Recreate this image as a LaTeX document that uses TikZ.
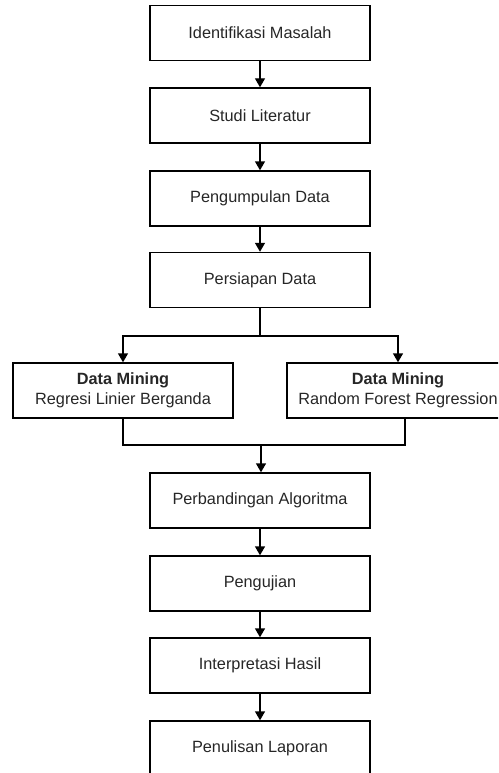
\documentclass[tikz,border=0pt]{standalone}
\usepackage{fontspec}
\setmainfont{Liberation Sans}
\usetikzlibrary{arrows.meta}
\begin{document}
\begin{tikzpicture}[x=1pt,y=-1pt,
  box/.style={draw=black,line width=1.4pt,minimum width=220pt,minimum height=55pt,inner sep=0pt,font=\fontsize{16.3}{20}\selectfont,text=black!85,align=center},
  conn/.style={draw=black,line width=1.4pt},
  arr/.style={conn,-{Triangle[width=10pt,length=9pt]}}]
\useasboundingbox (0,0) rectangle (498,773);
\clip (0,0) rectangle (498,773);
\node[box] (n1) at (260,33) {Identifikasi Masalah};
\node[box] (n2) at (260,115.5) {Studi Literatur};
\node[box] (n3) at (260,198.5) {Pengumpulan Data};
\node[box] (n4) at (260,280) {Persiapan Data};
\node[box] (dl) at (123,390.5) {\textbf{Data Mining}\\Regresi Linier Berganda};
\node[box,minimum width=222pt] (dr) at (398,390.5) {\textbf{Data Mining}\\Random Forest Regression};
\node[box] (n5) at (260,500.5) {Perbandingan Algoritma};
\node[box] (n6) at (260,583.5) {Pengujian};
\node[box] (n7) at (260,665.5) {Interpretasi Hasil};
\node[box] (n8) at (260,748.5) {Penulisan Laporan};
\coordinate (split) at (260,336);
\coordinate (merge) at (261,445);
\draw[arr] (n1) -- (n2);
\draw[arr] (n2) -- (n3);
\draw[arr] (n3) -- (n4);
\draw[conn] (n4.south) -- (split);
\draw[arr] (split) -| (dl.north);
\draw[arr] (split) -| (dr.north);
\draw[conn] (dl.south) |- (merge);
\draw[conn] ([xshift=7pt]dr.south) |- (merge);
\draw[arr] (merge) -- ([xshift=1pt]n5.north);
\draw[arr] (n5) -- (n6);
\draw[arr] (n6) -- (n7);
\draw[arr] (n7) -- (n8);
\end{tikzpicture}
\end{document}
